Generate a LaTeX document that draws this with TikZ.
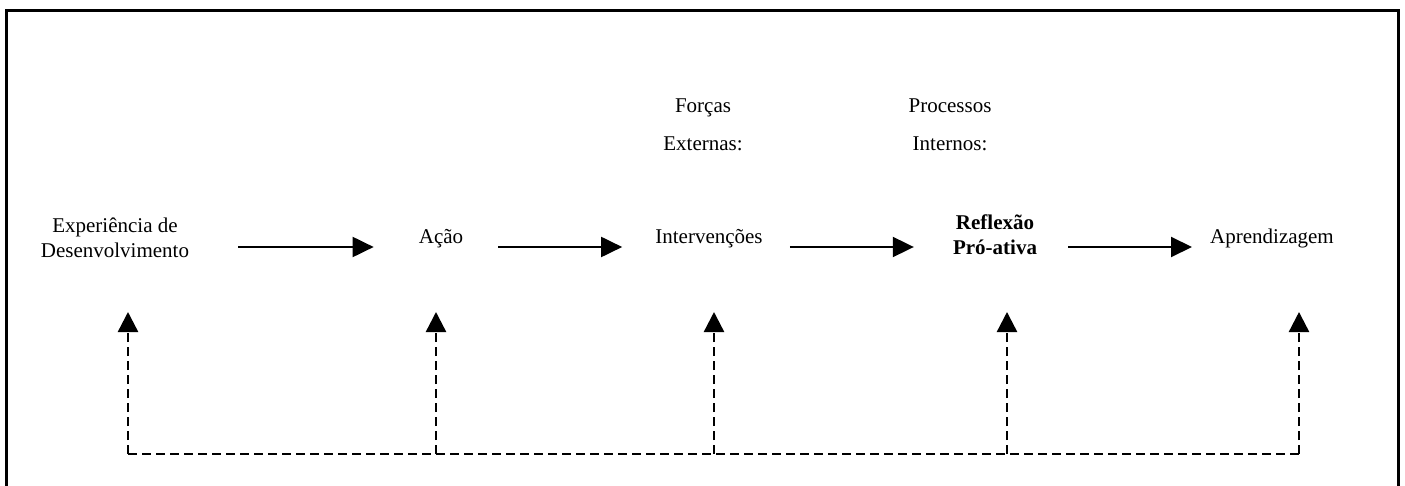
\documentclass[tikz,border=0pt]{standalone}
\usepackage{fontspec}
\setmainfont{Liberation Serif}
\usetikzlibrary{arrows.meta}
\tikzset{
x=1pt, y=-1pt, % one unit per pixel of the page
label/.style={inner sep=0pt, align=center, font=\fontsize{21}{25}\selectfont}, % plain text of the stages
flow/.style={line width=2pt, -{Triangle[length=21pt,width=20pt]}}, % solid arrows between stages
back/.style={line width=2.4pt, dash pattern=on 9pt off 5pt}, % dashed feedback line
frame/.style={line width=3pt}, % border round the figure
}
\begin{document}
\begin{tikzpicture}
    \useasboundingbox (0,0) rectangle (1405,486);
    \draw[frame] (6,486) -- (6,11) -- (1398,11) -- (1398,486);

    % stages
    \node[label] (exp) at (115,238) {Experiência de\\Desenvolvimento};
    \node[label, anchor=base] (acao) at (441,244) {Ação};
    \node[label, anchor=base] (interv) at (709,244) {Intervenções};
    \node[label, font=\fontsize{21}{25}\selectfont\bfseries] (refl) at (995,234.5) {Reflexão\\Pró-ativa};
    \node[label, anchor=base] (aprend) at (1272,244) {Aprendizagem};

    % headings
    \node[label] (forcas) at (703,125) {Forças\\[13pt]Externas:};
    \node[label] (processos) at (950,125) {Processos\\[13pt]Internos:};

    % forward arrows
    \coordinate (row) at (0,247);
    \foreach \a/\b/\s/\e in {exp/acao/49/45, acao/interv/35/33, interv/refl/27/39, refl/aprend/31/18}
        \draw[flow, shorten <=\s pt, shorten >=\e pt] (\a.east |- row) -- (\b.west |- row);

    % feedback
    \foreach \i/\x in {1/128, 2/436, 3/714, 4/1007, 5/1299} {
        \coordinate (low\i) at (\x,454);
        \coordinate (tip\i) at (\x,312);
    }
    \draw[back] (low1) -- (low5);
    \foreach \i in {1,...,5}
        \draw[back, -{Triangle[length=20pt,width=20pt]}] (low\i) -- (tip\i);
\end{tikzpicture}
\end{document}
